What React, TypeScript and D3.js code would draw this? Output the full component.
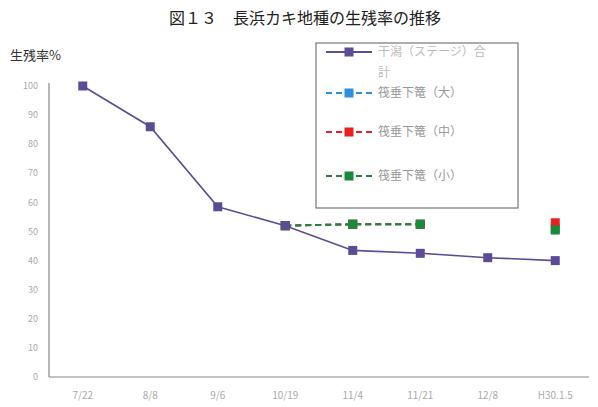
import React from "react";
import * as d3 from "d3";

const categories = ["7/22", "8/8", "9/6", "10/19", "11/4", "11/21", "12/8", "H30.1.5"];
const yTicks = [0, 10, 20, 30, 40, 50, 60, 70, 80, 90, 100];
const tidalTotal: (number | null)[] = [100, 86, 58.5, 52, 43.5, 42.5, 41, 40];
const raftLarge: (number | null)[] = [null, null, null, 52, 52.5, 52.5, null, 51];
const raftMedium: (number | null)[] = [null, null, null, 52, 52.5, 52.5, null, 53];
const raftSmall: (number | null)[] = [null, null, null, 52, 52.5, 52.5, null, 50.5];
const legendLabels = ["干潟（ステージ）合計", "筏垂下篭（大）", "筏垂下篭（中）", "筏垂下篭（小）"];

const W = 598, H = 407;
const left = 49, right = 589, top = 86, bottom = 377;

export default function App() {
  const x = d3.scaleBand<string>().domain(categories).range([left, right]);
  const y = d3.scaleLinear().domain([0, 100]).range([bottom, top]);
  const cx = (c: string) => (x(c) as number) + x.bandwidth() / 2;

  const series = [
    { data: raftLarge, color: "#2e8ede", dash: "6,4", width: 2 },
    { data: raftMedium, color: "#e82020", dash: "6,4", width: 2 },
    { data: raftSmall, color: "#1a8a3a", dash: "6,4", width: 2 },
    { data: tidalTotal, color: "#5c4c96", dash: "", width: 1.6 },
  ];

  const lineGen = d3
    .line<[string, number | null]>()
    .x((d) => cx(d[0]))
    .y((d) => y(d[1] as number));

  const pairs = (data: (number | null)[]) => categories.map((c, i) => [c, data[i]] as [string, number | null]);

  const segs = (data: (number | null)[]) => {
    const out: [string, number | null][][] = [];
    let cur: [string, number | null][] = [];
    pairs(data).forEach((p) => {
      if (p[1] == null) {
        if (cur.length) out.push(cur);
        cur = [];
      } else cur.push(p);
    });
    if (cur.length) out.push(cur);
    return out;
  };

  const legendItems = [
    { label: legendLabels[0], color: "#5c4c96", dash: "", y: 52 },
    { label: legendLabels[1], color: "#2e8ede", dash: "6,4", y: 93 },
    { label: legendLabels[2], color: "#e82020", dash: "6,4", y: 132 },
    { label: legendLabels[3], color: "#1a8a3a", dash: "6,4", y: 176 },
  ];

  return (
    <svg width={W} height={H} style={{ position: "absolute", left: 0, top: 0, background: "#fff" }}
      fontFamily="'Noto Sans CJK JP', sans-serif">
      <text x={305} y={24} textAnchor="middle" fontSize={16} fill="#222">
        図１３　長浜カキ地種の生残率の推移
      </text>
      <text x={10} y={60} fontSize={13} fill="#333">生残率%</text>

      <line x1={left} x2={left} y1={83} y2={bottom} stroke="#888" strokeWidth={1.2} />
      <line x1={left} x2={right} y1={bottom} y2={bottom} stroke="#888" strokeWidth={1.2} />
      {yTicks.map((t) => (
        <text key={t} x={38} y={y(t)} dy="0.35em" textAnchor="end" fontSize={9} fill="#aaa">{t}</text>
      ))}
      {categories.map((c) => (
        <text key={c} x={cx(c)} y={399} textAnchor="middle" fontSize={10} fill="#aaa">{c}</text>
      ))}

      {series.map((s, si) => (
        <g key={si}>
          {segs(s.data).map((seg, k) => (
            <path key={k} d={lineGen(seg) || ""} fill="none" stroke={s.color} strokeWidth={s.width} strokeDasharray={s.dash} />
          ))}
          {pairs(s.data).filter((p) => p[1] != null).map((p, k) => (
            <rect key={k} x={cx(p[0]) - 4.5} y={y(p[1] as number) - 4.5} width={9} height={9} fill={s.color} />
          ))}
        </g>
      ))}

      <rect x={316} y={43} width={202} height={165} fill="#fff" stroke="#777" strokeWidth={1.2} />
      {legendItems.map((it, i) => (
        <g key={i}>
          <line x1={326} x2={372} y1={it.y} y2={it.y} stroke={it.color} strokeWidth={2} strokeDasharray={it.dash} />
          <rect x={344.5} y={it.y - 4.5} width={9} height={9} fill={it.color} />
          {i === 0 ? (
            <text x={378} y={it.y} dy="0.35em" fontSize={12} fill="#bbb">
              <tspan>干潟（ステージ）合</tspan>
              <tspan x={378} dy={21}>計</tspan>
            </text>
          ) : (
            <text x={378} y={it.y} dy="0.35em" fontSize={12} fill="#999">{it.label}</text>
          )}
        </g>
      ))}
    </svg>
  );
}
